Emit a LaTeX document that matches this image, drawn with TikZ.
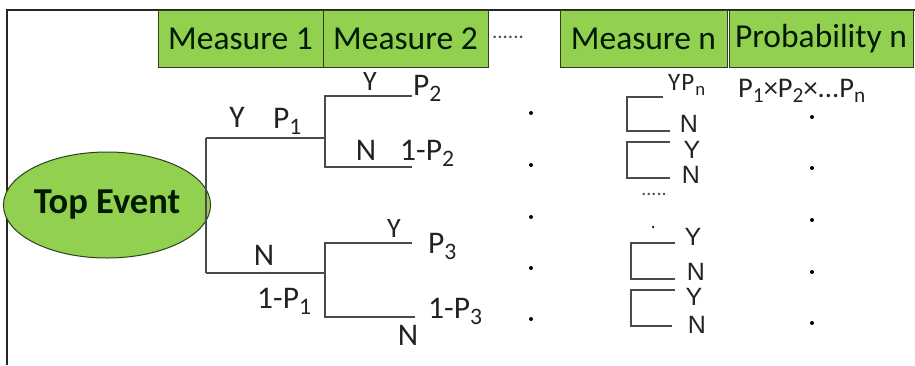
\documentclass[tikz,border=0pt]{standalone}
\usepackage{fontspec}
\usepackage{graphicx}
\setmainfont{Carlito}
\newfontfamily\arialf{Liberation Sans}
\usetikzlibrary{shapes.geometric}
\definecolor{boxgreen}{HTML}{92D050}
\definecolor{edgegreen}{HTML}{2F3F1F}
\definecolor{linegray}{HTML}{4A4A4A}
\definecolor{txt}{HTML}{222222}
\newcommand\sbx[1]{\raisebox{-0.2em}{\scalebox{0.75}{#1}}}
\begin{document}
\begin{tikzpicture}[x=1pt,y=-1pt,
  hbox/.style={draw=edgegreen, line width=1pt, fill=boxgreen, inner sep=0pt,
    minimum height=57, text=black!90!green, font=\fontsize{33.5}{36}\selectfont},
  lbl/.style={inner sep=0pt, text=txt, font=\fontsize{31.5}{34}\selectfont},
  slbl/.style={inner sep=0pt, text=txt, font=\fontsize{28}{30}\selectfont},
  albl/.style={inner sep=0pt, text=txt, anchor=base, font=\arialf\fontsize{25}{27}\selectfont},
  tline/.style={draw=linegray, line width=2.2pt},
  dotn/.style={circle, fill=black, inner sep=0pt, minimum size=4},
  frameline/.style={draw=black!85, line width=1.6pt}
]
\useasboundingbox (0,0) rectangle (915,365);
% frame
\coordinate (fbl) at (7,365);
\coordinate (ftl) at (7,10);
\coordinate (ftr) at (915,10);
\draw[frameline] (fbl) -- (ftl) -- (ftr);
% header
\node[hbox, minimum width=165] (m1) at (240.5,38.5) {Measure 1};
\node[hbox, minimum width=165] (m2) at (405.5,38.5) {Measure 2};
\node[inner sep=0pt, font=\fontsize{21}{22}\selectfont, text=black!70] (hd) at (508,37) {......};
\node[hbox, minimum width=167] (mn) at (643.5,38.5) {Measure n};
\node[hbox, minimum width=184] (pn) at (821,38.5) {Probability n};
% top event
\node[ellipse, draw=edgegreen, line width=1pt, fill=boxgreen, minimum width=200, minimum height=106,
  inner sep=0pt, font=\bfseries\fontsize{36.5}{38}\selectfont, text=black!90!green] (te) at (107,205) {Top Event};
% tree
\coordinate (b1) at (206,138);
\coordinate (b2) at (206,273);
\coordinate (j1) at (325,138);
\coordinate (j2) at (325,273);
\coordinate (u1) at (325,96);
\coordinate (d1) at (325,167);
\coordinate (u2) at (325,243);
\coordinate (d2) at (325,317);
\coordinate (l1) at (412,96);
\coordinate (l2) at (412,167);
\coordinate (l3) at (412,243);
\coordinate (l4) at (415,317);
\draw[tline] (b1) -- (b2);
\draw[tline] (b1) -- (j1);
\draw[tline] (b2) -- (j2);
\draw[tline] (l1) -- (u1) -- (d1) -- (l2);
\draw[tline] (l3) -- (u2) -- (d2) -- (l4);
% tree labels
\node[lbl, anchor=base] (y1) at (237,127) {Y};
\node[lbl, anchor=base west] (p1) at (273,128) {P\sbx{1}};
\node[lbl, anchor=base] (n1) at (264,265) {N};
\node[lbl, anchor=base west] (q1) at (257,308) {1-P\sbx{1}};
\node[slbl, anchor=base] (y2) at (370,90) {Y};
\node[lbl, anchor=base west] (p2) at (413,95) {P\sbx{2}};
\node[lbl, anchor=base] (n2) at (366,160) {N};
\node[lbl, anchor=base west] (q2) at (400,160) {1-P\sbx{2}};
\node[slbl, anchor=base] (y3) at (394,237) {Y};
\node[lbl, anchor=base west] (p3) at (428,253) {P\sbx{3}};
\node[lbl, anchor=base west] (q3) at (428,318) {1-P\sbx{3}};
\node[lbl, anchor=base] (n3) at (408,345) {N};
% first dots column
\node[dotn] (c1a) at (531,113) {};
\node[dotn] (c1b) at (531,165) {};
\node[dotn] (c1c) at (531,217) {};
\node[dotn] (c1d) at (531,268) {};
\node[dotn] (c1e) at (531,319) {};
% measure n column brackets
\coordinate (k1t) at (663,97);
\coordinate (k1m) at (627,114);
\coordinate (k1b) at (670,131);
\draw[tline] (k1t) -| (k1m) |- (k1b);
\coordinate (k2t) at (670,142);
\coordinate (k2m) at (627,160);
\coordinate (k2b) at (670,178);
\draw[tline] (k2t) -| (k2m) |- (k2b);
\coordinate (k3t) at (675,243);
\coordinate (k3m) at (631,261);
\coordinate (k3b) at (675,279);
\draw[tline] (k3t) -| (k3m) |- (k3b);
\coordinate (k4t) at (675,290);
\coordinate (k4m) at (631,308);
\coordinate (k4b) at (672,326);
\draw[tline] (k4t) -| (k4m) |- (k4b);
\node[inner sep=0pt, anchor=base west, text=txt, font=\fontsize{25}{27}\selectfont] (ypn) at (668,90) {Y\kern1pt P\kern1pt\sbx{n}};
\node[albl] (kn1) at (689,132) {N};
\node[albl] (ky2) at (692,158) {Y};
\node[albl] (kn2) at (691,183) {N};
\node[inner sep=0pt, font=\fontsize{20}{22}\selectfont, text=black!70] (kd1) at (654,194) {.....};
\node[dotn, minimum size=2.5] (kd2) at (653,227) {};
\node[albl] (ky3) at (693,245) {Y};
\node[albl] (kn3) at (696,280) {N};
\node[albl] (ky4) at (694,305) {Y};
\node[albl] (kn4) at (697,333) {N};
% probability column
\node[inner sep=0pt, anchor=base west, text=txt, font=\fontsize{28.5}{30}\selectfont] (prod) at (738,97) {P\sbx{1}×P\sbx{2}×...P\sbx{n}};
\node[dotn] (c2a) at (812,117) {};
\node[dotn] (c2b) at (812,168) {};
\node[dotn] (c2c) at (812,220) {};
\node[dotn] (c2d) at (812,272) {};
\node[dotn] (c2e) at (812,323) {};
\end{tikzpicture}
\end{document}
